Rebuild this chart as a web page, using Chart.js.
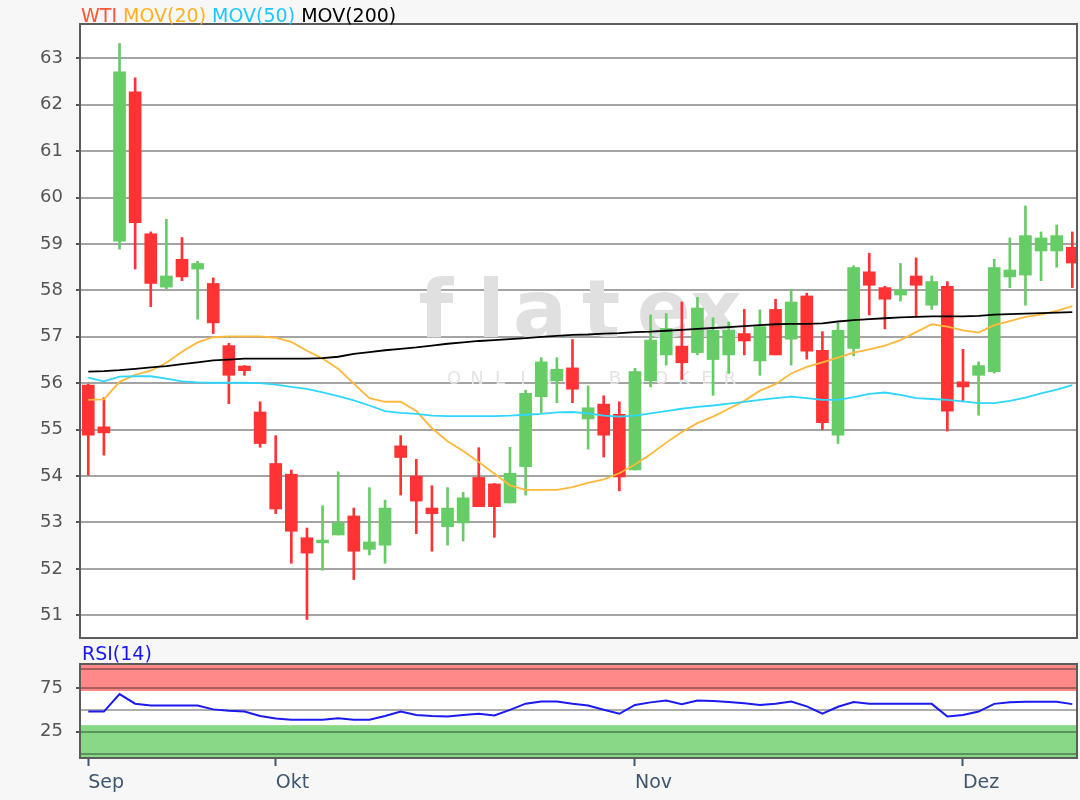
<!DOCTYPE html>
<html><head><meta charset="utf-8">
<script src="https://cdn.jsdelivr.net/npm/chart.js@4.4.1/dist/chart.umd.min.js"></script>
<style>
html,body{margin:0;padding:0;background:#f7f7f7;}
#wrap{position:relative;width:1080px;height:800px;overflow:hidden;font-family:'DejaVu Sans',sans-serif;}
#main{position:absolute;left:0;top:0;width:1080px;height:645px;}
#rsi{position:absolute;left:0;top:640px;width:1080px;height:160px;}
.legend{position:absolute;left:81px;top:4px;font-size:19px;line-height:22px;white-space:nowrap;}
.rsiLabel{position:absolute;left:82px;top:642px;font-size:19px;line-height:22px;color:#1818ee;white-space:nowrap;}
</style></head>
<body><div id="wrap">
<canvas id="main" width="1080" height="645"></canvas>
<canvas id="rsi" width="1080" height="160"></canvas>
<div class="legend"><span style="color:#ff5533">WTI</span> <span style="color:#ffb020">MOV(20)</span> <span style="color:#1ec8ff">MOV(50)</span> <span style="color:#000">MOV(200)</span></div>
<div class="rsiLabel">RSI(14)</div>
</div>
<script>
// ---- data (index 0 = first trading day shown, mid-September) ----
const opens = [55.96,55.06,59.06,62.28,59.22,58.07,58.67,58.46,58.15,56.81,
  56.37,55.38,54.27,54.04,52.67,52.56,52.73,53.14,52.42,52.51,
  54.65,54.00,53.31,52.91,52.99,53.97,53.83,53.42,54.20,55.71,
  56.05,56.33,55.23,55.55,55.33,54.13,56.05,56.61,56.80,56.66,
  56.51,56.61,57.07,56.48,57.59,56.95,57.88,56.71,54.88,56.75,
  58.40,58.06,57.90,58.31,57.68,58.09,56.03,56.17,56.25,58.29,
  58.33,58.85,58.85,58.93];
const highs = [55.98,55.69,63.32,62.58,59.26,59.53,59.14,58.63,58.27,56.86,
  56.38,55.60,54.87,54.13,52.88,53.36,54.09,53.31,53.75,53.48,
  54.87,54.36,53.79,53.75,53.65,54.61,53.84,54.62,55.85,56.55,
  56.55,56.94,55.94,55.73,55.60,56.32,57.47,57.50,57.75,57.85,
  57.41,57.32,57.59,57.58,57.81,58.02,57.94,57.11,57.29,58.53,
  58.80,58.09,58.58,58.70,58.31,58.19,56.73,56.46,58.67,59.13,
  59.82,59.26,59.41,59.26];
const lows = [54.02,54.45,58.89,58.46,57.65,58.03,58.21,57.38,57.07,55.56,
  56.17,54.62,53.19,52.12,50.91,51.97,52.73,51.77,52.30,52.12,
  53.59,52.76,52.38,52.51,52.60,53.34,52.68,53.42,53.59,55.36,
  55.58,55.58,54.58,54.41,53.68,54.13,55.92,56.39,56.08,56.61,
  55.74,56.21,56.61,56.17,56.61,56.39,56.52,55.00,54.70,56.59,
  57.47,57.17,57.77,57.45,57.59,54.97,55.60,55.31,56.22,58.06,
  57.68,58.21,58.50,58.06];
const closes = [54.88,54.93,62.71,59.46,58.15,58.31,58.29,58.58,57.30,56.17,
  56.27,54.70,53.29,52.81,52.34,52.62,52.99,52.38,52.58,53.31,
  54.40,53.46,53.19,53.31,53.53,53.34,53.34,54.06,55.78,56.46,
  56.30,55.87,55.47,54.88,53.98,56.25,56.93,57.18,56.44,57.62,
  57.14,57.14,56.91,57.22,56.61,57.75,56.69,55.15,57.14,58.49,
  58.11,57.81,58.01,58.11,58.19,55.40,55.92,56.38,58.49,58.44,
  59.18,59.13,59.18,58.59];
const ma20 = [55.64,55.65,56.03,56.18,56.27,56.44,56.68,56.88,56.99,57.01,
  57.01,57.01,56.98,56.89,56.70,56.53,56.31,55.99,55.68,55.60,
  55.60,55.40,55.03,54.75,54.54,54.30,54.05,53.80,53.70,53.70,
  53.70,53.76,53.85,53.93,54.06,54.25,54.47,54.72,54.95,55.14,
  55.28,55.45,55.62,55.84,55.98,56.21,56.35,56.45,56.55,56.66,
  56.73,56.81,56.93,57.10,57.27,57.22,57.14,57.09,57.25,57.34,
  57.43,57.48,57.56,57.66];
const ma50 = [56.12,56.04,56.14,56.15,56.15,56.10,56.04,56.02,56.01,56.01,
  56.01,56.00,55.97,55.92,55.88,55.80,55.72,55.63,55.52,55.40,
  55.36,55.34,55.30,55.29,55.29,55.29,55.29,55.30,55.32,55.34,
  55.37,55.38,55.35,55.30,55.28,55.30,55.35,55.40,55.45,55.49,
  55.52,55.56,55.60,55.64,55.68,55.71,55.68,55.64,55.64,55.70,
  55.77,55.80,55.75,55.68,55.66,55.64,55.61,55.57,55.57,55.62,
  55.69,55.78,55.86,55.96];
const ma200 = [56.25,56.26,56.28,56.31,56.34,56.37,56.41,56.45,56.49,56.51,
  56.53,56.53,56.53,56.53,56.53,56.54,56.57,56.63,56.67,56.71,
  56.74,56.77,56.81,56.85,56.88,56.91,56.93,56.95,56.97,57.00,
  57.02,57.04,57.05,57.07,57.08,57.10,57.11,57.13,57.15,57.17,
  57.19,57.21,57.23,57.25,57.27,57.28,57.28,57.29,57.33,57.36,
  57.38,57.40,57.42,57.43,57.44,57.44,57.44,57.45,57.48,57.49,
  57.50,57.51,57.52,57.53];
const rsi = [48,48,68,57,55,55,55,55,50.5,49,
  48,43,40,38.7,38.7,38.7,40.5,38.7,38.7,43,
  48,44,43,42.5,44,45.5,43.5,50,57,59.5,
  59.5,57,55,50,45.5,55.5,58.5,60.5,56.5,60.5,
  60,59,57.5,55.5,57,59.5,54,45.5,53.5,59,
  57,56.8,56.8,56.8,56.8,42.4,44,48,56.8,58.5,
  59.1,59.1,59.1,56.5];
const monthIdx = [0, 12, 35, 56];
const monthLabels = ['Sep', 'Okt', 'Nov', 'Dez'];
const priceTicks = [51,52,53,54,55,56,57,58,59,60,61,62,63];
const rsiGrid = [0, 25, 50, 75, 96.6];
const rsiLabels = [25, 75];
const rsiBands = [{from: 71.5, to: 102.3, color: '#ff8888'}, {from: -5, to: 32.5, color: '#88d888'}];

// ---- drawing ----
const FONT = "'DejaVu Sans', sans-serif";
Chart.defaults.font.family = FONT;
const X_MIN = -0.53, X_MAX = 63.3;

const bgPlugin = {
  id: 'bg',
  beforeDraw(chart, args, opts) {
    const {ctx, chartArea: a} = chart;
    ctx.save();
    ctx.fillStyle = '#ffffff';
    ctx.fillRect(a.left, a.top, a.right - a.left, a.bottom - a.top);
    if (opts && opts.bands) {
      const ys = chart.scales.y;
      for (const b of opts.bands) {
        let y1 = ys.getPixelForValue(b.to), y2 = ys.getPixelForValue(b.from);
        y1 = Math.max(a.top, y1); y2 = Math.min(a.bottom, y2);
        ctx.fillStyle = b.color;
        ctx.fillRect(a.left, y1, a.right - a.left, y2 - y1);
      }
    }
    ctx.restore();
  },
  afterDraw(chart) {
    const {ctx, chartArea: a} = chart;
    ctx.save();
    ctx.strokeStyle = '#5c5c5c';
    ctx.lineWidth = 2;
    ctx.strokeRect(a.left, a.top, a.right - a.left, a.bottom - a.top);
    ctx.restore();
  }
};

const watermark = {
  id: 'wm',
  beforeDatasetsDraw(chart) {
    const ctx = chart.ctx;
    ctx.save();
    ctx.textAlign = 'center';
    ctx.textBaseline = 'alphabetic';
    ctx.fillStyle = '#e0e0e0';
    ctx.font = "bold 80px 'DejaVu Sans', sans-serif";
    const big = [['f', 436], ['l', 491], ['a', 540], ['t', 601], ['e', 664], ['x', 716]];
    big.forEach(([c, x]) => ctx.fillText(c, x, 337));
    ctx.fillStyle = '#e4e4e4';
    ctx.font = "18px 'DejaVu Sans', sans-serif";
    'ONLINE BROKER'.split('').forEach((c, i) => ctx.fillText(c, 454 + i * 23, 384));
    ctx.restore();
  }
};

const candleColors = opens.map((o, i) => closes[i] >= o ? '#66cc66' : '#ff3333');
const pts = arr => arr.map((v, i) => ({x: i, y: v}));
const noPad = s => { s.paddingTop = 0; s.paddingBottom = 0; };

new Chart(document.getElementById('main'), {
  type: 'bar',
  data: {
    datasets: [
      {type: 'line', label: 'MOV(200)', data: pts(ma200), borderColor: '#000000', borderWidth: 1.8, pointRadius: 0, order: 0},
      {type: 'line', label: 'MOV(50)', data: pts(ma50), borderColor: '#2fd6ff', borderWidth: 1.8, pointRadius: 0, order: 1},
      {type: 'line', label: 'MOV(20)', data: pts(ma20), borderColor: '#ffb83a', borderWidth: 1.8, pointRadius: 0, order: 2},
      {label: 'WTI', data: opens.map((o, i) => ({x: i, y: [o, closes[i]]})), backgroundColor: candleColors,
       barThickness: 12, grouped: false, minBarLength: 1, order: 3},
      {label: 'WTI range', data: lows.map((l, i) => ({x: i, y: [l, highs[i]]})), backgroundColor: candleColors,
       barThickness: 2, grouped: false, order: 4}
    ]
  },
  options: {
    responsive: false, animation: false, devicePixelRatio: 1,
    layout: {padding: {top: 24, right: 3, bottom: 7, left: 0}},
    plugins: {legend: {display: false}, tooltip: {enabled: false}, bg: {}},
    scales: {
      x: {type: 'linear', min: X_MIN, max: X_MAX, display: false, offset: false},
      y: {
        min: 50.51, max: 63.74,
        afterBuildTicks: s => { s.ticks = priceTicks.map(v => ({value: v})); },
        afterFit: s => { s.width = 80; noPad(s); },
        grid: {color: '#a4a4a4', lineWidth: 2, tickLength: 4, tickColor: '#555555', tickWidth: 2},
        border: {display: false},
        ticks: {padding: 13, color: '#555555', autoSkip: false, font: {family: FONT, size: 18}}
      }
    }
  },
  plugins: [bgPlugin, watermark]
});

new Chart(document.getElementById('rsi'), {
  type: 'line',
  data: {datasets: [{label: 'RSI(14)', data: pts(rsi), borderColor: '#1a1aee', borderWidth: 2, pointRadius: 0}]},
  options: {
    responsive: false, animation: false, devicePixelRatio: 1,
    layout: {padding: {top: 24, right: 3, bottom: 0, left: 0}},
    plugins: {legend: {display: false}, tooltip: {enabled: false}, bg: {bands: rsiBands}},
    scales: {
      x: {
        type: 'linear', min: X_MIN, max: X_MAX, offset: false,
        afterBuildTicks: s => { s.ticks = monthIdx.map(v => ({value: v})); },
        afterFit: s => { s.height = 42; s.paddingLeft = 0; s.paddingRight = 0; },
        grid: {drawOnChartArea: false, tickLength: 8, tickColor: '#3e566e', tickWidth: 2},
        border: {display: false},
        ticks: {align: 'start', padding: 6, color: '#3e566e', autoSkip: false, maxRotation: 0,
          font: {family: FONT, size: 19},
          callback: v => { const k = monthIdx.indexOf(v); return k >= 0 ? monthLabels[k] : ''; }}
      },
      y: {
        min: -5, max: 102.3,
        afterBuildTicks: s => { s.ticks = rsiGrid.map(v => ({value: v})); },
        afterFit: s => { s.width = 80; noPad(s); },
        grid: {color: 'rgba(0,0,0,0.32)', lineWidth: 2, tickLength: 4, tickWidth: 2,
          tickColor: c => (c.tick && rsiLabels.includes(c.tick.value)) ? '#555555' : 'rgba(0,0,0,0)'},
        border: {display: false},
        ticks: {padding: 13, color: '#555555', autoSkip: false, font: {family: FONT, size: 18},
          callback: v => rsiLabels.includes(v) ? String(v) : ''}
      }
    }
  },
  plugins: [bgPlugin]
});
</script>
</body></html>
